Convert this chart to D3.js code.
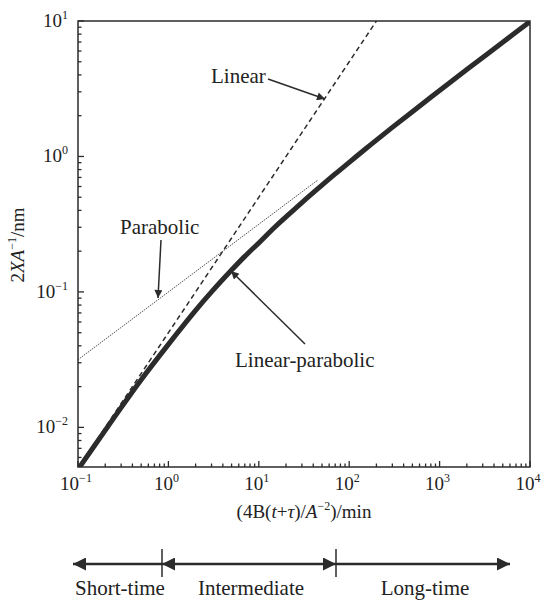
<!DOCTYPE html>
<html>
<head>
<meta charset="utf-8">
<script src="https://cdn.jsdelivr.net/npm/d3@7"></script>
<style>
  body { margin: 0; background: #fff; }
  text { font-family: "Liberation Serif", "Times New Roman", serif; fill: #222; }
</style>
</head>
<body>
<svg id="chart" width="546" height="600"></svg>
<script>
// values
const curveU = [0.1, 0.2, 0.3, 0.5, 1, 2, 3, 5, 7, 10, 15, 20, 30, 50, 70, 100, 150, 200, 300, 500, 1000, 2000, 5000, 10000];
const curveY = [0.0049, 0.0095, 0.014, 0.0225, 0.041, 0.073, 0.1, 0.145, 0.183, 0.23, 0.3, 0.358, 0.457, 0.614, 0.743, 0.905, 1.13, 1.32, 1.64, 2.14, 3.07, 4.38, 6.97, 9.9];
const linearU = [0.1, 200];
const linearY = [0.005, 10];
const parabolicU = [0.1, 45];
const parabolicY = [0.0316, 0.67];
const xTickPowers = [-1, 0, 1, 2, 3, 4];
const yTickPowers = [-2, -1, 0, 1];
const regimeLabels = ["Short-time", "Intermediate", "Long-time"];

const svg = d3.select('#chart');
const plotLeft = 78, plotRight = 530, plotTop = 21, plotBottom = 467;

let x = d3.scaleLog().domain([0.1, 1e4]).range([plotLeft, plotRight]);
let y = d3.scaleLog().domain([0.0051, 10]).range([plotBottom, plotTop]);

const ink = '#2b2b2b';

// arrow heads
let defs = svg.append('defs');
defs.append('marker')
    .attr('id', 'head')
    .attr('viewBox', '0 0 10 10')
    .attr('refX', 10).attr('refY', 5)
    .attr('markerWidth', 10).attr('markerHeight', 8)
    .attr('markerUnits', 'userSpaceOnUse')
    .attr('orient', 'auto')
    .append('path').attr('d', 'M0,0 L10,5 L0,10 Z').attr('fill', ink);
defs.append('marker')
    .attr('id', 'bighead')
    .attr('viewBox', '0 0 10 10')
    .attr('refX', 10).attr('refY', 5)
    .attr('markerWidth', 16).attr('markerHeight', 13)
    .attr('markerUnits', 'userSpaceOnUse')
    .attr('orient', 'auto-start-reverse')
    .append('path').attr('d', 'M0,0 L10,5 L0,10 Z').attr('fill', ink);

// clip
defs.append('clipPath').attr('id', 'plotclip')
    .append('rect').attr('x', plotLeft).attr('y', plotTop)
    .attr('width', plotRight - plotLeft).attr('height', plotBottom - plotTop);

// ticks
let isMajor = v => Math.abs(Math.log10(v) - Math.round(Math.log10(v))) < 1e-6;

svg.append('g').selectAll('line')
    .data(x.ticks())
    .enter().append('line')
    .attr('x1', d => x(d)).attr('x2', d => x(d))
    .attr('y1', plotBottom).attr('y2', d => plotBottom - (isMajor(d) ? 6 : 3.5))
    .attr('stroke', ink).attr('stroke-width', 1.3);

svg.append('g').selectAll('line')
    .data(y.ticks())
    .enter().append('line')
    .attr('y1', d => y(d)).attr('y2', d => y(d))
    .attr('x1', plotLeft).attr('x2', d => plotLeft + (isMajor(d) ? 6 : 3.5))
    .attr('stroke', ink).attr('stroke-width', 1.3);

// tick labels with superscripts
function powerLabel(g, p) {
    g.append('tspan').text('10');
    g.append('tspan').attr('dy', -8).attr('font-size', 12)
        .text(p < 0 ? '\u2212' + Math.abs(p) : String(p));
}

svg.append('g').selectAll('text')
    .data(xTickPowers)
    .enter().append('text')
    .attr('x', d => x(Math.pow(10, d)) - 2)
    .attr('y', plotBottom + 23)
    .attr('text-anchor', 'middle')
    .attr('font-size', 19)
    .each(function(d) { powerLabel(d3.select(this), d); });

svg.append('g').selectAll('text')
    .data(yTickPowers)
    .enter().append('text')
    .attr('x', 68)
    .attr('y', d => y(Math.pow(10, d)) + 6)
    .attr('text-anchor', 'end')
    .attr('font-size', 19)
    .each(function(d) { powerLabel(d3.select(this), d); });

// axis titles
let xt = svg.append('text')
    .attr('x', 304).attr('y', 518)
    .attr('text-anchor', 'middle')
    .attr('font-size', 19);
xt.append('tspan').text('(4B(');
xt.append('tspan').attr('font-style', 'italic').text('t');
xt.append('tspan').text('+');
xt.append('tspan').attr('font-style', 'italic').text('\u03c4');
xt.append('tspan').text(')/');
xt.append('tspan').attr('font-style', 'italic').text('A');
xt.append('tspan').attr('dy', -8).attr('font-size', 12).text('\u22122');
xt.append('tspan').attr('dy', 8).text(')/min');

let yt = svg.append('text')
    .attr('transform', 'translate(24,245) rotate(-90)')
    .attr('text-anchor', 'middle')
    .attr('font-size', 19);
yt.append('tspan').text('2');
yt.append('tspan').attr('font-style', 'italic').text('XA');
yt.append('tspan').attr('dy', -8).attr('font-size', 12).text('\u22121');
yt.append('tspan').attr('dy', 8).text('/nm');

// lines
let line = d3.line().x(d => x(d[0])).y(d => y(d[1]));
let plot = svg.append('g').attr('clip-path', 'url(#plotclip)');

plot.append('path')
    .datum(parabolicU.map((u, i) => [u, parabolicY[i]]))
    .attr('d', line)
    .attr('fill', 'none')
    .attr('stroke', '#555')
    .attr('stroke-width', 1)
    .attr('stroke-dasharray', '1.5,1');

plot.append('path')
    .datum(linearU.map((u, i) => [u, linearY[i]]))
    .attr('d', line)
    .attr('fill', 'none')
    .attr('stroke', ink)
    .attr('stroke-width', 1.5)
    .attr('stroke-dasharray', '5,3.5');

plot.append('path')
    .datum(curveU.map((u, i) => [u, curveY[i]]))
    .attr('d', line.curve(d3.curveCatmullRom.alpha(0.5)))
    .attr('fill', 'none')
    .attr('stroke', ink)
    .attr('stroke-width', 5)
    .attr('stroke-linecap', 'round');

// frame
svg.append('rect')
    .attr('x', plotLeft).attr('y', plotTop)
    .attr('width', plotRight - plotLeft).attr('height', plotBottom - plotTop)
    .attr('fill', 'none')
    .attr('stroke', ink)
    .attr('stroke-width', 1.5);

// annotations
svg.append('text').attr('x', 211).attr('y', 83).attr('font-size', 21).text('Linear');
svg.append('line')
    .attr('x1', 268).attr('y1', 79).attr('x2', 325).attr('y2', 99)
    .attr('stroke', ink).attr('stroke-width', 1.5)
    .attr('marker-end', 'url(#head)');

svg.append('text').attr('x', 120).attr('y', 234).attr('font-size', 21).text('Parabolic');
svg.append('line')
    .attr('x1', 161).attr('y1', 240).attr('x2', 158).attr('y2', 298)
    .attr('stroke', ink).attr('stroke-width', 1.5)
    .attr('marker-end', 'url(#head)');

svg.append('text').attr('x', 235).attr('y', 367).attr('font-size', 21).text('Linear-parabolic');
svg.append('line')
    .attr('x1', 305).attr('y1', 344).attr('x2', 231).attr('y2', 271)
    .attr('stroke', ink).attr('stroke-width', 1.5)
    .attr('marker-end', 'url(#head)');

// regime arrows below the chart
const bandY = 564;
const bandEdges = [73, 162, 336, 510];
let band = svg.append('g');
band.append('line')
    .attr('x1', bandEdges[1]).attr('x2', bandEdges[0])
    .attr('y1', bandY).attr('y2', bandY)
    .attr('stroke', ink).attr('stroke-width', 2.5)
    .attr('marker-end', 'url(#bighead)');
band.append('line')
    .attr('x1', bandEdges[1]).attr('x2', bandEdges[2])
    .attr('y1', bandY).attr('y2', bandY)
    .attr('stroke', ink).attr('stroke-width', 2.5)
    .attr('marker-start', 'url(#bighead)')
    .attr('marker-end', 'url(#bighead)');
band.append('line')
    .attr('x1', bandEdges[2]).attr('x2', bandEdges[3])
    .attr('y1', bandY).attr('y2', bandY)
    .attr('stroke', ink).attr('stroke-width', 2.5)
    .attr('marker-end', 'url(#bighead)');
band.selectAll('line.sep')
    .data([bandEdges[1], bandEdges[2]])
    .enter().append('line')
    .attr('class', 'sep')
    .attr('x1', d => d).attr('x2', d => d)
    .attr('y1', 549).attr('y2', 577)
    .attr('stroke', ink).attr('stroke-width', 1.5);

const labelCenters = [120, 251, 425];
band.selectAll('text')
    .data(regimeLabels)
    .enter().append('text')
    .attr('x', (d, i) => labelCenters[i])
    .attr('y', 595)
    .attr('text-anchor', 'middle')
    .attr('font-size', 21)
    .text(d => d);
</script>
</body>
</html>
